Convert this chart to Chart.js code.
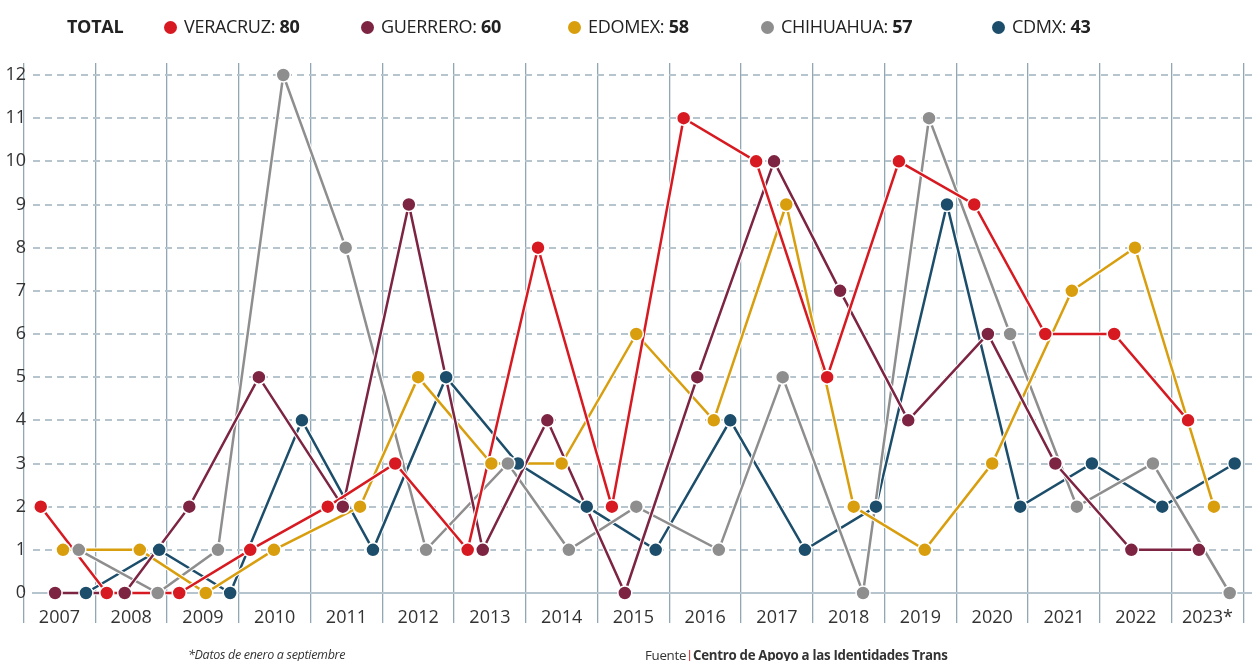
<!DOCTYPE html>
<html>
<head>
<meta charset="utf-8">
<script src="https://cdn.jsdelivr.net/npm/chart.js@4"></script>
<style>
  html, body { margin: 0; padding: 0; background: #fff; }
  body { width: 1252px; height: 661px; position: relative; overflow: hidden; font-family: "Open Sans", sans-serif; color: #222; }
  #wrap { position: absolute; left: 0; top: 0; width: 1252px; height: 661px; }
  .leg { position: absolute; top: 14px; font-size: 18px; letter-spacing: -0.3px; line-height: 24px; white-space: nowrap; }
  .leg b { font-weight: 700; }
  .dot { display: inline-block; width: 13px; height: 13px; border-radius: 50%; margin-right: 7px; vertical-align: -1px; }
  .foot { position: absolute; top: 647px; font-size: 12.5px; line-height: 16px; white-space: nowrap; color: #333; letter-spacing: -0.3px; }
</style>
</head>
<body>
<div id="wrap"><canvas id="chart" width="1252" height="661"></canvas></div>

<div class="leg" style="left:67px"><b>TOTAL</b></div>
<div class="leg" style="left:164px"><span class="dot" style="background:#d71a21"></span>VERACRUZ: <b>80</b></div>
<div class="leg" style="left:361px"><span class="dot" style="background:#7c2441"></span>GUERRERO: <b>60</b></div>
<div class="leg" style="left:568px"><span class="dot" style="background:#d89e0e"></span>EDOMEX: <b>58</b></div>
<div class="leg" style="left:761px"><span class="dot" style="background:#8e8e8e"></span>CHIHUAHUA: <b>57</b></div>
<div class="leg" style="left:992px"><span class="dot" style="background:#1c4e6b"></span>CDMX: <b>43</b></div>

<div class="foot" style="left:188px; font-style:italic">*Datos de enero a septiembre</div>
<div class="foot" style="left:645px; font-size:13.3px">Fuente<span style="color:#d71a21">|</span><b>Centro de Apoyo a las Identidades Trans</b></div>

<script>
// etiquetas de años (una por columna)
const yearLabels = ['2007', '2008', '2009', '2010', '2011', '2012', '2013', '2014', '2015',
    '2016', '2017', '2018', '2019', '2020', '2021', '2022', '2023*'];
const yTicks = [0, 1, 2, 3, 4, 5, 6, 7, 8, 9, 10, 11, 12];

// valores por estado
const veracruz  = [2, 0, 0, 1, 2, 3, 1, 8, 2, 11, 10, 5, 10, 9, 6, 6, 4];
const guerrero  = [0, 0, 2, 5, 2, 9, 1, 4, 0, 5, 10, 7, 4, 6, 3, 1, 1];
const edomex    = [1, 1, 0, 1, 2, 5, 3, 3, 6, 4, 9, 2, 1, 3, 7, 8, 2];
const chihuahua = [1, 0, 1, 12, 8, 1, 3, 1, 2, 1, 5, 0, 11, 6, 2, 3, 0];
const cdmx      = [0, 1, 0, 4, 1, 5, 3, 2, 1, 4, 1, 2, 9, 2, 3, 2, 3];

// posición de cada punto dentro de su año (año decimal)
const xVeracruz  = [2006.74, 2007.66, 2008.67, 2009.66, 2010.74, 2011.68, 2012.69, 2013.67, 2014.70,
    2015.70, 2016.71, 2017.70, 2018.70, 2019.75, 2020.74, 2021.70, 2022.73];
const xGuerrero  = [2006.94, 2007.91, 2008.81, 2009.78, 2010.95, 2011.87, 2012.90, 2013.80, 2014.88,
    2015.89, 2016.96, 2017.88, 2018.83, 2019.94, 2020.88, 2021.94, 2022.88];
const xEdomex    = [2007.05, 2008.12, 2009.04, 2009.99, 2011.19, 2012.00, 2013.02, 2014.00, 2015.04,
    2016.12, 2017.13, 2018.07, 2019.06, 2020.00, 2021.11, 2021.99, 2023.09];
const xChihuahua = [2007.27, 2008.37, 2009.21, 2010.12, 2010.99, 2012.11, 2013.25, 2014.10, 2015.04,
    2016.19, 2017.08, 2018.20, 2019.12, 2020.25, 2021.18, 2022.24, 2023.31];
const xCdmx      = [2007.37, 2008.39, 2009.38, 2010.38, 2011.37, 2012.39, 2013.39, 2014.35, 2015.31,
    2016.35, 2017.39, 2018.38, 2019.37, 2020.39, 2021.39, 2022.37, 2023.38];

const series = [
    ['VERACRUZ', xVeracruz, veracruz, '#d71a21'],
    ['GUERRERO', xGuerrero, guerrero, '#7c2441'],
    ['EDOMEX', xEdomex, edomex, '#d89e0e'],
    ['CHIHUAHUA', xChihuahua, chihuahua, '#8e8e8e'],
    ['CDMX', xCdmx, cdmx, '#1c4e6b'],
];

function pts(xs, ys) {
    return ys.map((y, i) => ({x: xs[i], y: y}));
}

// primero todas las líneas, luego todos los puntos encima
function linea(label, xs, ys, color) {
    return {
        label: label,
        data: pts(xs, ys),
        borderColor: color,
        borderWidth: 2.5,
        pointRadius: 0,
        pointHoverRadius: 0,
        tension: 0,
        clip: false,
        order: 1,
        halo: true,
    };
}

function puntos(label, xs, ys, color) {
    return {
        label: label,
        data: pts(xs, ys),
        showLine: false,
        backgroundColor: color,
        pointRadius: 7,
        pointHoverRadius: 7,
        pointBorderColor: '#ffffff',
        pointBorderWidth: 1.5,
        clip: false,
        order: 0,
    };
}

// borde blanco fino debajo de cada línea
const halo = {
    id: 'halo',
    beforeDatasetDraw(chart, args) {
        if (!chart.data.datasets[args.index].halo) return;
        const p = args.meta.data;
        const ctx = chart.ctx;
        ctx.save();
        ctx.strokeStyle = '#ffffff';
        ctx.lineWidth = 4.5;
        ctx.beginPath();
        p.forEach((el, i) => i === 0 ? ctx.moveTo(el.x, el.y) : ctx.lineTo(el.x, el.y));
        ctx.stroke();
        ctx.restore();
    }
};

const gridColor = '#b5c4cd';
const vLineColor = '#92a7b4';

new Chart(document.getElementById('chart'), {
    type: 'line',
    data: {
        datasets: series.map(s => linea(...s)).concat(series.map(s => puntos(...s))),
    },
    plugins: [halo],
    options: {
        responsive: false,
        animation: false,
        devicePixelRatio: 1,
        layout: {
            autoPadding: false,
            padding: {top: 63, right: 0, bottom: 28, left: 0}
        },
        plugins: {
            legend: {display: false},
            tooltip: {enabled: false},
        },
        scales: {
            x: {
                type: 'linear',
                min: 2006.632,
                max: 2023.621,
                afterBuildTicks: function(scale) {
                    // líneas verticales entre años
                    scale.ticks = yearLabels.concat(['']).map((l, i) => ({value: 2006.5 + i}));
                },
                afterFit: function(scale) {
                    scale.height = 40;
                    scale.paddingLeft = 0;
                    scale.paddingRight = 0;
                },
                grid: {
                    color: vLineColor,
                    lineWidth: 1.3,
                    drawTicks: true,
                    tickLength: 30,
                    tickColor: vLineColor,
                    tickWidth: 1.3,
                },
                border: {
                    display: true,
                    color: gridColor,
                    width: 2,
                },
                ticks: {
                    autoSkip: false,
                    maxRotation: 0,
                    padding: -16,
                    labelOffset: 35.9,
                    color: '#333',
                    font: {family: 'Open Sans', size: 18},
                    callback: function(value, index) {
                        return yearLabels[index] || '';
                    }
                },
            },
            y: {
                min: 0,
                max: 12.278,
                afterBuildTicks: function(scale) {
                    scale.ticks = yTicks.map(v => ({value: v}));
                },
                afterFit: function(scale) {
                    scale.width = 33;
                    scale.paddingTop = 0;
                    scale.paddingBottom = 0;
                },
                grid: {
                    color: gridColor,
                    lineWidth: 2,
                    drawTicks: false,
                },
                border: {
                    display: false,
                    dash: [7, 5],
                },
                ticks: {
                    padding: 7,
                    color: '#333',
                    font: {family: 'Open Sans', size: 18},
                },
            },
        },
    },
});
</script>
</body>
</html>
